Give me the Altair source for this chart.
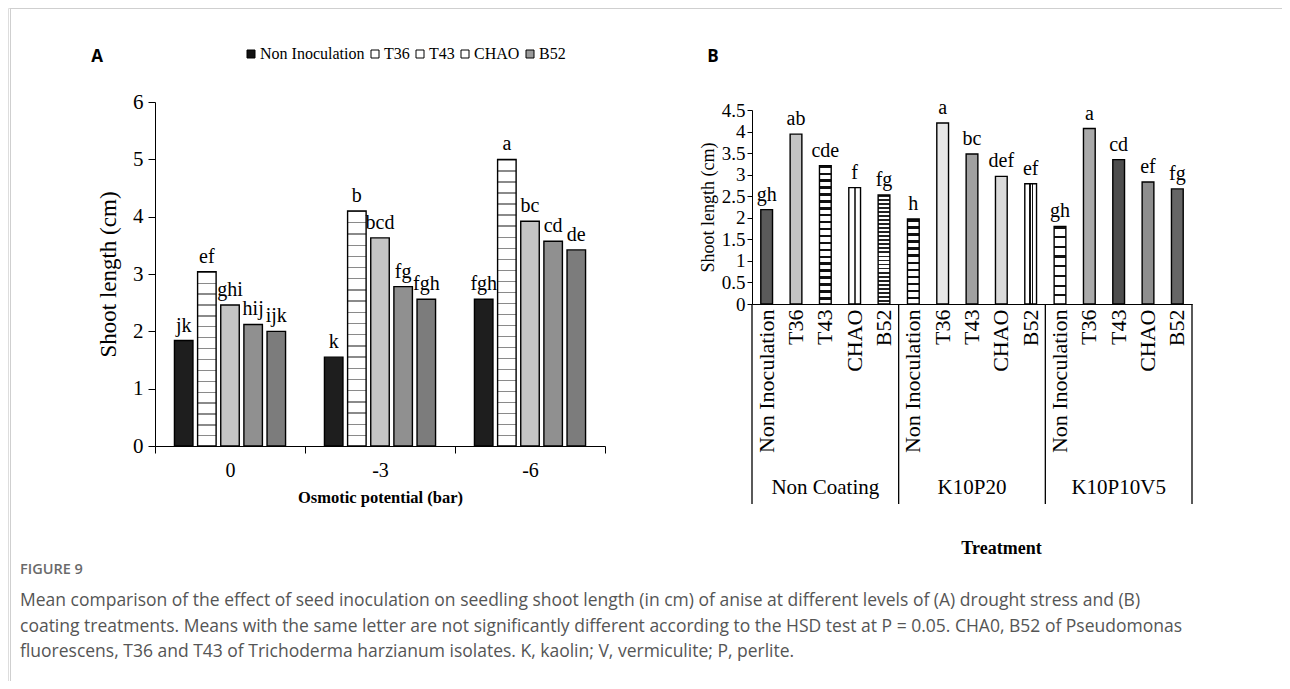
import altair as alt
import pandas as pd

# ---------------- data ----------------
a_levels = ["0", "-3", "-6"]
a_series = ["Non Inoculation", "T36", "T43", "CHAO", "B52"]
a_vals_0 = [1.84, 3.04, 2.46, 2.12, 2.00]
a_vals_m3 = [1.55, 4.10, 3.63, 2.78, 2.56]
a_vals_m6 = [2.56, 5.00, 3.92, 3.57, 3.42]
a_let_0 = ["jk", "ef", "ghi", "hij", "ijk"]
a_let_m3 = ["k", "b", "bcd", "fg", "fgh"]
a_let_m6 = ["fgh", "a", "bc", "cd", "de"]

b_coatings = ["Non Coating", "K10P20", "K10P10V5"]
b_treatments = ["Non Inoculation", "T36", "T43", "CHAO", "B52"]
b_vals_nc = [2.19, 3.94, 3.21, 2.70, 2.53]
b_vals_k20 = [1.97, 4.20, 3.48, 2.96, 2.79]
b_vals_k5 = [1.80, 4.07, 3.35, 2.83, 2.67]
b_let_nc = ["gh", "ab", "cde", "f", "fg"]
b_let_k20 = ["h", "a", "bc", "def", "ef"]
b_let_k5 = ["gh", "a", "cd", "ef", "fg"]

caption_lines = [
    "Mean comparison of the effect of seed inoculation on seedling shoot length (in cm) of anise at different levels of (A) drought stress and (B)",
    "coating treatments. Means with the same letter are not significantly different according to the HSD test at P = 0.05. CHA0, B52 of Pseudomonas",
    "fluorescens, T36 and T43 of Trichoderma harzianum isolates. K, kaolin; V, vermiculite; P, perlite.",
]

# ---------------- tables ----------------
rowsA = []
for lvl, vals, lets in zip(a_levels, [a_vals_0, a_vals_m3, a_vals_m6], [a_let_0, a_let_m3, a_let_m6]):
    for s, v, l in zip(a_series, vals, lets):
        rowsA.append(dict(level=lvl, series=s, value=v, letter=l))
dfA = pd.DataFrame(rowsA)

rowsB = []
for c, vals, lets in zip(b_coatings, [b_vals_nc, b_vals_k20, b_vals_k5], [b_let_nc, b_let_k20, b_let_k5]):
    for t, v, l in zip(b_treatments, vals, lets):
        rowsB.append(dict(coat=c, treat=t, key=c + "|" + t, value=v, letter=l))
dfB = pd.DataFrame(rowsB)
b_keys = list(dfB["key"])

# ---------------- layout (view pixels) ----------------
W, H = 1274, 673
AX0, AX1, AY0, AY1 = 147, 597, 438, 94
BX0, BX1, BY0, BY1 = 744, 1184, 296, 102
SERIF = "Liberation Serif"
SANS = "Open Sans"
ppuA = (AY0 - AY1) / 6.0
ppuB = (BY0 - BY1) / 4.5


def hstripes(n, line, bg, frac):
    stops = []
    for i in range(n):
        a, b, c = i / n, (i + frac) / n, (i + 1) / n
        stops += [{"offset": a, "color": line}, {"offset": b, "color": line},
                  {"offset": b, "color": bg}, {"offset": c, "color": bg}]
    return {"gradient": "linear", "x1": 0, "y1": 0, "x2": 0, "y2": 1, "stops": stops}


def vbands(bands, line, bg):
    stops = []
    pos = 0.0
    for a, b in bands:
        stops += [{"offset": pos, "color": bg}, {"offset": a, "color": bg},
                  {"offset": a, "color": line}, {"offset": b, "color": line}]
        pos = b
    stops += [{"offset": pos, "color": bg}, {"offset": 1, "color": bg}]
    return {"gradient": "linear", "x1": 0, "y1": 0, "x2": 1, "y2": 0, "stops": stops}


def fill_for(spec, value, ppu):
    kind = spec[0]
    if kind == "solid":
        return spec[1]
    if kind == "h":
        _, spacing, frac, line, bg = spec
        n = max(1, round(value * ppu / spacing))
        return hstripes(n, line, bg, frac)
    if kind == "v":
        _, bands, line, bg = spec
        return vbands(bands, line, bg)


patA = {
    "Non Inoculation": ("solid", "#1e1e1e"),
    "T36": ("h", 11, 0.12, "#8a8a8a", "#ffffff"),
    "T43": ("solid", "#c4c4c4"),
    "CHAO": ("solid", "#909090"),
    "B52": ("solid", "#7c7c7c"),
}
patB = {
    ("Non Coating", "Non Inoculation"): ("solid", "#5a5a5a"),
    ("Non Coating", "T36"): ("solid", "#c4c4c4"),
    ("Non Coating", "T43"): ("h", 7, 0.35, "#111111", "#ffffff"),
    ("Non Coating", "CHAO"): ("v", [(0.42, 0.58)], "#444444", "#ffffff"),
    ("Non Coating", "B52"): ("h", 4, 0.45, "#222222", "#ffffff"),
    ("K10P20", "Non Inoculation"): ("h", 7, 0.35, "#111111", "#ffffff"),
    ("K10P20", "T36"): ("solid", "#e8e8e8"),
    ("K10P20", "T43"): ("solid", "#a0a0a0"),
    ("K10P20", "CHAO"): ("solid", "#dadada"),
    ("K10P20", "B52"): ("v", [(0.40, 0.50), (0.62, 0.72)], "#111111", "#ffffff"),
    ("K10P10V5", "Non Inoculation"): ("h", 10, 0.22, "#111111", "#ffffff"),
    ("K10P10V5", "T36"): ("solid", "#aaaaaa"),
    ("K10P10V5", "T43"): ("solid", "#4e4e4e"),
    ("K10P10V5", "CHAO"): ("solid", "#8e8e8e"),
    ("K10P10V5", "B52"): ("solid", "#666666"),
}

# ---------------- panel A ----------------
xA = alt.X("level:N", sort=a_levels,
           scale=alt.Scale(domain=a_levels, range=[AX0, AX1], paddingInner=0, paddingOuter=0),
           axis=alt.Axis(orient="bottom", offset=AY0 - H, title="Osmotic potential (bar)",
                         labelAngle=0, labelFont=SERIF, labelFontSize=20, labelColor="black",
                         labelPadding=7, tickBand="extent", tickSize=7, tickColor="black",
                         domainColor="black", titleFont=SERIF, titleFontSize=16.5,
                         titleFontWeight="bold", titleColor="black", titleX=(AX0 + AX1) / 2,
                         titleY=51, titleBaseline="middle"))
xoA = alt.XOffset("series:N", sort=a_series,
                  scale=alt.Scale(domain=a_series, paddingInner=0.2, paddingOuter=0.84))
yA = alt.Y("value:Q",
           scale=alt.Scale(domain=[0, 6], range=[AY0, AY1], nice=False, zero=True),
           axis=alt.Axis(orient="left", offset=-AX0, values=[0, 1, 2, 3, 4, 5, 6],
                         title="Shoot length (cm)", grid=False, labelFont=SERIF,
                         labelFontSize=21, labelColor="black", labelPadding=5, tickSize=7,
                         tickColor="black", domainColor="black", titleFont=SERIF,
                         titleFontSize=23, titleFontWeight="normal", titleColor="black",
                         titleX=-47, titleY=(AY0 + AY1) / 2, titleAngle=270,
                         titleBaseline="middle"))

a_layers = []
for r in rowsA:
    a_layers.append(
        alt.Chart(dfA).transform_filter(
            (alt.datum.level == r["level"]) & (alt.datum.series == r["series"])
        ).mark_bar(fill=fill_for(patA[r["series"]], r["value"], ppuA), stroke="black",
                   strokeWidth=1.4).encode(x=xA, xOffset=xoA, y=yA)
    )

a_text = alt.Chart(dfA).mark_text(baseline="bottom", dy=-5, font=SERIF, fontSize=20,
                                  color="black").encode(x=xA, xOffset=xoA, y=yA, text="letter:N")

a_legend = alt.Chart(dfA).mark_square(opacity=0, size=10).encode(
    x=xA, xOffset=xoA, y=yA,
    color=alt.Color("series:N", sort=a_series,
                    scale=alt.Scale(domain=a_series,
                                    range=["#111111", "#ffffff", "#ffffff", "#ffffff", "#9a9a9a"]),
                    legend=alt.Legend(orient="none", legendX=235, legendY=38, direction="horizontal",
                                      title=None, symbolType="square", symbolSize=64,
                                      symbolOpacity=1, symbolStrokeColor="black",
                                      symbolStrokeWidth=1, labelFont=SERIF, labelFontSize=16,
                                      labelColor="black", labelOffset=1, columnPadding=2,
                                      symbolOffset=0, padding=0)))

panelA = alt.layer(*a_layers, a_text, a_legend)

# ---------------- panel B ----------------
xB = alt.X("key:N", sort=b_keys,
           scale=alt.Scale(domain=b_keys, range=[BX0, BX1], paddingInner=0, paddingOuter=0),
           axis=alt.Axis(orient="bottom", offset=BY0 - H, title="Treatment",
                         labelExpr="split(datum.label, '|')[1]", labelAngle=270,
                         labelFont=SERIF, labelFontSize=22, labelColor="black", labelPadding=5,
                         ticks=False, domainColor="black", labelOverlap=False,
                         titleFont=SERIF, titleFontSize=18, titleFontWeight="bold",
                         titleColor="black", titleX=993, titleY=244, titleBaseline="middle"))
yB = alt.Y("value:Q",
           scale=alt.Scale(domain=[0, 4.5], range=[BY0, BY1], nice=False, zero=True),
           axis=alt.Axis(orient="left", offset=-BX0,
                         values=[0, 0.5, 1, 1.5, 2, 2.5, 3, 3.5, 4, 4.5], format="~g",
                         labelOverlap=False, title="Shoot length (cm)", grid=False,
                         labelFont=SERIF, labelFontSize=19, labelColor="black", labelPadding=2,
                         tickSize=5, tickColor="black", domainColor="black",
                         titleFont=SERIF, titleFontSize=18, titleFontWeight="normal",
                         titleColor="black", titleX=-44, titleY=(BY0 + BY1) / 2,
                         titleAngle=270, titleBaseline="middle"))

b_layers = []
for r in rowsB:
    b_layers.append(
        alt.Chart(dfB).transform_filter(alt.datum.key == r["key"]).mark_bar(
            fill=fill_for(patB[(r["coat"], r["treat"])], r["value"], ppuB), stroke="black",
            strokeWidth=1.4, width=alt.RelativeBandSize(0.4)).encode(x=xB, y=yB)
    )

b_text = alt.Chart(dfB).mark_text(baseline="bottom", dy=-5, font=SERIF, fontSize=20,
                                  color="black").encode(x=xB, y=yB, text="letter:N")

firsts = pd.DataFrame({"key": [c + "|" + b_treatments[0] for c in b_coatings]})
lasts = pd.DataFrame({"key": [b_coatings[-1] + "|" + b_treatments[-1]]})
mids = pd.DataFrame({"key": [c + "|" + b_treatments[2] for c in b_coatings], "coat": b_coatings})

b_div1 = alt.Chart(firsts).mark_rule(color="black", strokeWidth=1.3).encode(
    x=alt.X("key:N", sort=b_keys, bandPosition=0), y=alt.value(BY0), y2=alt.value(BY0 + 200))
b_div2 = alt.Chart(lasts).mark_rule(color="black", strokeWidth=1.3).encode(
    x=alt.X("key:N", sort=b_keys, bandPosition=1), y=alt.value(BY0), y2=alt.value(BY0 + 200))
b_groups = alt.Chart(mids).mark_text(font=SERIF, fontSize=21, color="black",
                                     baseline="middle").encode(
    x=alt.X("key:N", sort=b_keys), y=alt.value(480), text="coat:N")

panelB = alt.layer(*b_layers, b_text, b_div1, b_div2, b_groups)

# ---------------- decorations ----------------
one = pd.DataFrame({"d": [0]})
frame_top = alt.Chart(one).mark_rule(color="#cfcfcf", strokeWidth=1).encode(
    x=alt.value(2), x2=alt.value(W), y=alt.value(0.5))
frame_left = alt.Chart(one).mark_rule(color="#cfcfcf", strokeWidth=1).encode(
    x=alt.value(2.5), y=alt.value(0), y2=alt.value(H))

lab_A = alt.Chart(pd.DataFrame({"t": ["A"]})).mark_text(
    font=SANS, fontSize=17, fontWeight="bold", color="black").encode(
    x=alt.value(89), y=alt.value(49), text="t:N")
lab_B = alt.Chart(pd.DataFrame({"t": ["B"]})).mark_text(
    font=SANS, fontSize=17, fontWeight="bold", color="black").encode(
    x=alt.value(705), y=alt.value(49), text="t:N")

fig_lab = alt.Chart(pd.DataFrame({"t": ["FIGURE 9"]})).mark_text(
    font=SANS, fontSize=14.5, fontWeight=600, color="#6a6a6a", align="left",
    baseline="middle").encode(x=alt.value(12), y=alt.value(562), text="t:N")

cap_layers = []
for i, line in enumerate(caption_lines):
    cap_layers.append(alt.Chart(pd.DataFrame({"t": [line]})).mark_text(
        font=SANS, fontSize=17.5, color="#555555", align="left", baseline="middle").encode(
        x=alt.value(12), y=alt.value(593 + 25.5 * i), text="t:N"))

chart = alt.layer(
    frame_top, frame_left, panelA, panelB, lab_A, lab_B, fig_lab, *cap_layers
).resolve_scale(x="independent", y="independent").properties(
    width=W, height=H, padding=0, autosize=alt.AutoSizeParams(type="none")
).configure_view(strokeWidth=0).configure(background="white")

chart.save("out.html", embed_options={"renderer": "svg", "actions": False})
